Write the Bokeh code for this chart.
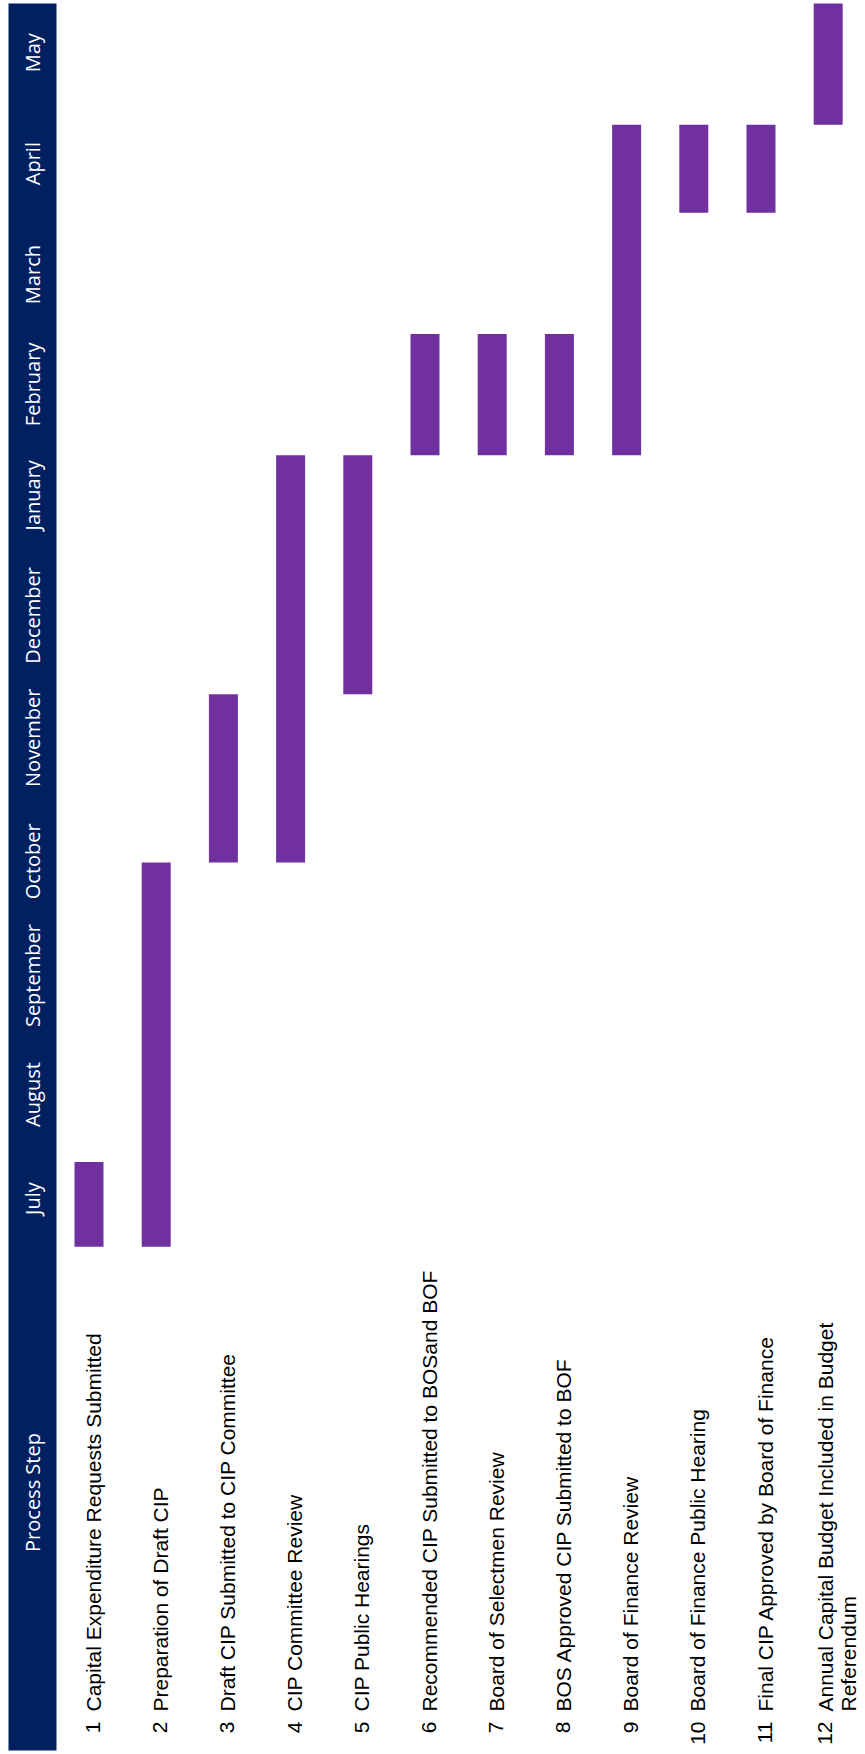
import math
from bokeh.plotting import figure
from bokeh.models import Range1d, ColumnDataSource
from bokeh.core.properties import value
from bokeh.embed import file_html
from bokeh.resources import INLINE

# ---------------- data ----------------
months = ["July", "August", "September", "October", "November", "December",
          "January", "February", "March", "April", "May"]
# centre of each month header cell, in months counted from the start of July
month_pos = [0.55, 1.46, 2.5, 3.5, 4.58, 5.65, 6.7, 7.67, 8.63, 9.6, 10.57]
step_numbers = ["1", "2", "3", "4", "5", "6", "7", "8", "9", "10", "11", "12"]
step_labels = [
    "Capital Expenditure Requests Submitted",
    "Preparation of Draft CIP",
    "Draft CIP Submitted to CIP Committee",
    "CIP Committee Review",
    "CIP Public Hearings",
    "Recommended CIP Submitted to BOSand BOF",
    "Board of Selectmen Review",
    "BOS Approved CIP Submitted to BOF",
    "Board of Finance Review",
    "Board of Finance Public Hearing",
    "Final CIP Approved by Board of Finance",
    "Annual Capital Budget Included in Budget\nReferendum",
]
# start / end of each step, in months counted from the start of July
step_start = [0.13, 0.13, 3.49, 3.49, 4.96, 7.05, 7.05, 7.05, 7.05, 9.17, 9.17, 9.94]
step_end = [0.87, 3.49, 4.96, 7.05, 7.05, 8.11, 8.11, 8.11, 9.94, 9.94, 9.94, 11.0]
header_label = "Process Step"

# ---------------- layout constants ----------------
W, H = 865, 1754
PX_STEP = 67.2      # px between step columns
PX_MONTH = 114.36   # px per month
X0_PX = 88.5        # px of step 1 centre
Y0_PX = 1261.0      # px of start of July

def xd(px):
    return 1 + (px - X0_PX) / PX_STEP

def yd(px):
    return (Y0_PX - px) / PX_MONTH

NAVY = "#002060"
PURPLE = "#7030A0"

p = figure(width=W, height=H, output_backend="svg", toolbar_location=None,
           x_range=Range1d(xd(0), xd(W)), y_range=Range1d(yd(H), yd(0)),
           x_axis_location=None, y_axis_location=None, min_border=0)
p.grid.visible = False
p.outline_line_color = None
p.background_fill_color = "white"
p.border_fill_color = "white"

# header band
p.quad(left=[xd(8)], right=[xd(56)], top=[yd(3)], bottom=[yd(1750)],
       fill_color=NAVY, line_color=None)

# month labels
msrc = ColumnDataSource(dict(x=[xd(32)] * len(months), y=month_pos, t=months))
p.text(x="x", y="y", text="t", source=msrc, angle=math.pi / 2,
       text_align="center", text_baseline="middle", text_color="white",
       text_font=value("Open Sans"), text_font_size="20px")

# header label
p.text(x=[xd(32)], y=[yd(1492)], text=[header_label], angle=math.pi / 2,
       text_align="center", text_baseline="middle", text_color="white",
       text_font=value("Open Sans"), text_font_size="20px")

# bars
idx = list(range(1, len(step_labels) + 1))
bsrc = ColumnDataSource(dict(x=idx, bottom=step_start, top=step_end))
p.vbar(x="x", bottom="bottom", top="top", width=29 / PX_STEP, source=bsrc,
       fill_color=PURPLE, line_color=None)

# step labels (rotated, possibly multi-line)
lx, ly, lt = [], [], []
nx, ny, nt = [], [], []
LINE_PX = 23.0
for i, (num, lab) in enumerate(zip(step_numbers, step_labels), start=1):
    lines = lab.split("\n")
    base_shift = 4 - (len(lines) - 1) * 7
    for k, line in enumerate(lines):
        lx.append(i + (base_shift + k * LINE_PX) / PX_STEP)
        ly.append(yd(1711))
        lt.append(line)
    nx.append(i + base_shift / PX_STEP)
    ny.append(yd(1721))
    nt.append(num)

p.text(x=lx, y=ly, text=lt, angle=math.pi / 2, text_align="left",
       text_baseline="alphabetic", text_color="black",
       text_font=value("Liberation Sans"), text_font_size="21px")
p.text(x=nx, y=ny, text=nt, angle=math.pi / 2, text_align="right",
       text_baseline="alphabetic", text_color="black",
       text_font=value("Liberation Sans"), text_font_size="21px")

open("out.html", "w").write(file_html(p, INLINE))
